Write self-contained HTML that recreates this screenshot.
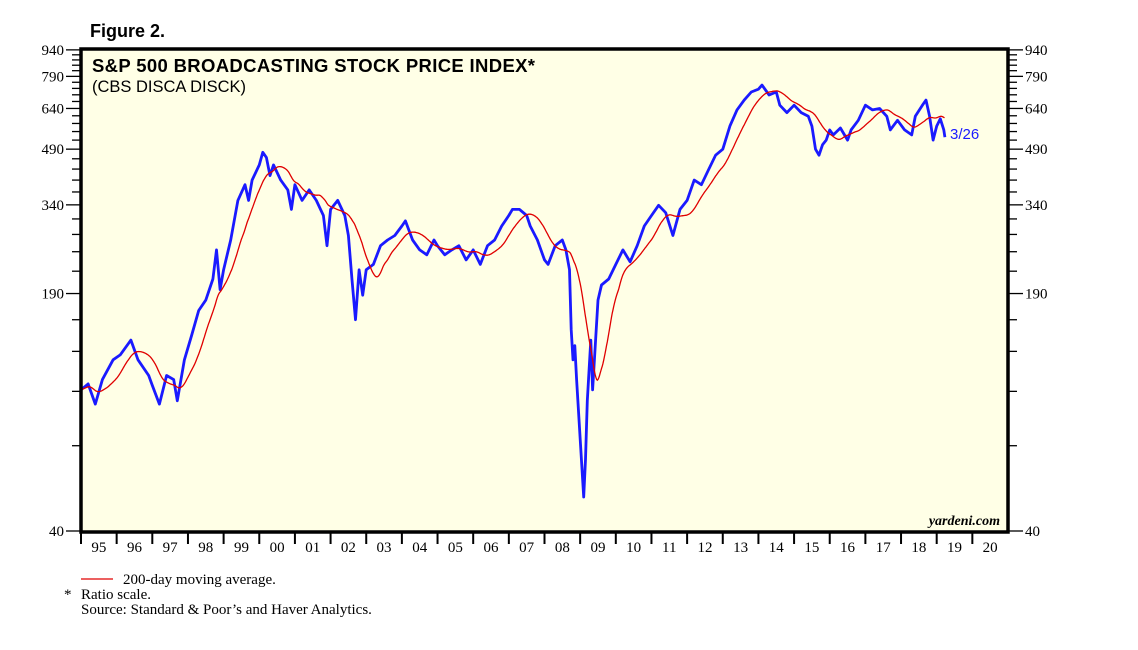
<!DOCTYPE html>
<html><head><meta charset="utf-8">
<style>
body{margin:0;background:#fff;}
svg{display:block;font-family:"Liberation Sans",sans-serif;}
.serif{font-family:"Liberation Serif",serif;}
</style></head>
<body>
<svg id="chart" width="1138" height="650">
<text x="90" y="37" font-size="18" font-weight="bold">Figure 2.</text>
<rect x="81" y="49" width="927" height="483" fill="#ffffe6"/>
<g id="grid"></g>
<g id="series"></g>
<rect x="81" y="49" width="927" height="483" fill="none" stroke="#000" stroke-width="3.5"/>
<text x="92" y="72" font-size="18.5" font-weight="bold" textLength="443">S&amp;P 500 BROADCASTING STOCK PRICE INDEX*</text>
<text x="92" y="92" font-size="16.5">(CBS DISCA DISCK)</text>
<text x="950" y="139" font-size="15" fill="#1a1aff">3/26</text>
<text x="1000" y="525" font-size="14" font-style="italic" font-weight="bold" text-anchor="end" class="serif">yardeni.com</text>
<g id="axes"></g>
<line x1="81" y1="579" x2="113" y2="579" stroke="#e00000" stroke-width="1.2"/>
<text x="123" y="584" font-size="15" class="serif">200-day moving average.</text>
<text x="64" y="599" font-size="15" class="serif">*</text>
<text x="81" y="599" font-size="15" class="serif">Ratio scale.</text>
<text x="81" y="614" font-size="15" class="serif">Source: Standard &amp; Poor’s and Haver Analytics.</text>
</svg>
<script>
const yTicks=[40,190,340,490,640,790,940];
const xYears=["95","96","97","98","99","00","01","02","03","04","05","06","07","08","09","10","11","12","13","14","15","16","17","18","19","20"];
const dates=[1995.0,1995.2,1995.4,1995.6,1995.9,1996.1,1996.4,1996.6,1996.9,1997.0,1997.2,1997.4,1997.6,1997.7,1997.9,1998.1,1998.3,1998.5,1998.7,1998.8,1998.9,1999.0,1999.2,1999.4,1999.6,1999.7,1999.8,2000.0,2000.1,2000.2,2000.3,2000.4,2000.6,2000.8,2000.9,2001.0,2001.2,2001.4,2001.6,2001.8,2001.9,2002.0,2002.2,2002.4,2002.5,2002.6,2002.7,2002.8,2002.9,2003.0,2003.2,2003.4,2003.6,2003.8,2004.0,2004.1,2004.3,2004.5,2004.7,2004.9,2005.0,2005.2,2005.4,2005.6,2005.8,2006.0,2006.2,2006.4,2006.6,2006.8,2007.0,2007.1,2007.3,2007.5,2007.6,2007.8,2008.0,2008.1,2008.3,2008.5,2008.6,2008.7,2008.75,2008.8,2008.85,2008.9,2009.0,2009.1,2009.15,2009.2,2009.3,2009.35,2009.5,2009.6,2009.8,2010.0,2010.2,2010.4,2010.6,2010.8,2011.0,2011.2,2011.4,2011.6,2011.8,2012.0,2012.2,2012.4,2012.6,2012.8,2013.0,2013.2,2013.4,2013.6,2013.8,2014.0,2014.1,2014.3,2014.5,2014.6,2014.8,2015.0,2015.2,2015.4,2015.5,2015.6,2015.7,2015.8,2015.9,2016.0,2016.1,2016.3,2016.5,2016.6,2016.8,2017.0,2017.2,2017.4,2017.6,2017.7,2017.9,2018.1,2018.3,2018.4,2018.6,2018.7,2018.8,2018.9,2019.0,2019.1,2019.2,2019.23];
const prices=[101,105,92,108,123,127,140,123,111,104,92,111,108,94,123,144,170,182,209,253,195,222,270,350,388,350,400,442,480,464,412,442,400,375,330,388,350,375,350,317,260,330,350,317,278,208,160,222,188,222,230,260,270,278,296,306,270,253,245,270,260,245,253,260,237,253,230,260,270,296,317,330,330,317,296,270,237,230,260,270,253,222,150,123,135,108,73,50,64,94,140,101,182,201,209,230,253,234,260,296,317,339,323,278,330,350,400,388,428,471,490,570,634,676,713,726,746,699,713,654,623,654,623,608,570,490,471,505,520,556,538,563,520,556,592,654,634,640,608,556,592,556,538,608,654,676,608,520,570,598,556,530];
const X0=81,X1=1008,T0=1995,T1=2021,YB=531,K=152.4;
const xs=t=>X0+(t-T0)/(T1-T0)*(X1-X0);
const ys=v=>YB-Math.log(v/40)*K;
const NS="http://www.w3.org/2000/svg";
function mk(tag,attrs,parent){const e=document.createElementNS(NS,tag);for(const k in attrs)e.setAttribute(k,attrs[k]);parent.appendChild(e);return e;}
const axes=document.getElementById('axes');
for(let v=40;v<=940;v+=30){
  const y=ys(v),maj=yTicks.includes(v);
  const l1=mk('line',{x1:maj?66:72,x2:81,y1:y,y2:y,stroke:'#000','stroke-width':1.3},axes);
  
  
  const l2=mk('line',{x1:1008,x2:maj?1023:1017,y1:y,y2:y,stroke:'#000','stroke-width':1.3},axes);
  
  
}
yTicks.forEach(v=>{
  const y=ys(v);
  const a=mk('text',{x:64,y:y+5,'font-size':15,'text-anchor':'end',class:'serif'},axes);a.textContent=v;
  
  
  const b=mk('text',{x:1025,y:y+5,'font-size':15,class:'serif'},axes);b.textContent=v;
  
  
});
xYears.forEach((lab,i)=>{
  const x=xs(T0+i);
  const t=mk('line',{x1:x,x2:x,y1:531,y2:544,stroke:'#000','stroke-width':2},axes);
  
  
  const tx=mk('text',{x:xs(T0+i+0.5),y:552,'font-size':15,'text-anchor':'middle',class:'serif'},axes);tx.textContent=lab;
  
  
});
const s=document.getElementById('series');
const bp=dates.map((d,i)=>xs(d).toFixed(1)+','+ys(prices[i]).toFixed(1)).join(' ');
const blue=mk('polyline',{points:bp,fill:'none',stroke:'#1a1aff','stroke-width':2.8,'stroke-linejoin':'round'},s);


function interp(t){if(t<=dates[0])return prices[0];for(let i=1;i<dates.length;i++){if(t<=dates[i]){const f=(t-dates[i-1])/(dates[i]-dates[i-1]);return prices[i-1]+f*(prices[i]-prices[i-1]);}}return prices[prices.length-1];}
const step=0.02,win=0.75,grid=[];
for(let t=dates[0];t<=dates[dates.length-1]+1e-9;t+=step)grid.push([t,interp(t)]);
const ma=[];
grid.forEach((g,i)=>{let n=0,sm=0;for(let j=i;j>=0&&grid[i][0]-grid[j][0]<win;j--){sm+=grid[j][1];n++;}ma.push([g[0],sm/n]);});
const rp=ma.map(p=>xs(p[0]).toFixed(1)+','+ys(p[1]).toFixed(1)).join(' ');
const red=mk('polyline',{points:rp,fill:'none',stroke:'#e00000','stroke-width':1.3},s);


</script>
</body></html>
